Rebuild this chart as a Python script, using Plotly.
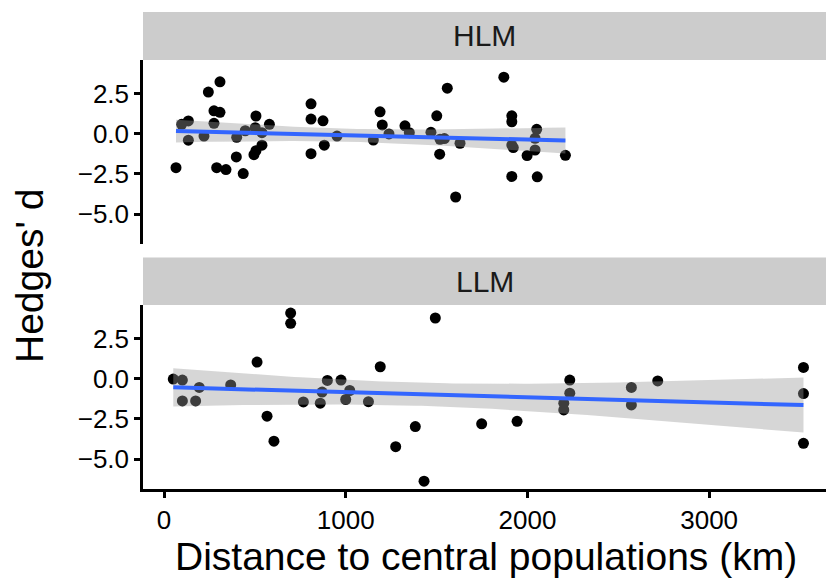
import numpy as np
import plotly.graph_objects as go

# ---- data ----
hlm_x = [66, 97, 134, 134, 220, 244, 275, 275, 308, 308, 290, 341, 400, 398, 436, 447,
         506, 502, 539, 539, 506, 495, 580, 809, 809, 875, 952, 809, 882, 1152, 1189,
         1201, 1238, 1326, 1350, 1469, 1501, 1519, 1543, 1517, 1559, 1629, 1605, 1870,
         1914, 1914, 1914, 1922, 1914, 1998, 2051, 2042, 2042, 2054, 2209]
hlm_y = [-2.11, 0.59, 0.80, -0.40, -0.14, 2.60, 0.65, 1.43, 3.24, 1.34, -2.11, -2.23,
         -0.22, -1.44, -2.48, 0.19, 1.11, 0.38, 0.07, -0.71, -1.05, -1.30, 0.59, 1.87,
         0.92, 0.81, -0.14, -1.24, -0.71, -0.39, 1.37, 0.55, -0.01, 0.50, 0.07, 0.09,
         1.12, -0.34, -0.30, -1.27, 2.84, -0.59, -3.94, 3.53, 1.12, 0.75, -0.70, -0.86,
         -2.66, -1.36, 0.28, -0.28, -1.01, -2.68, -1.34]

llm_x = [51, 101, 101, 174, 194, 367, 512, 567, 605, 697, 697, 767, 860, 870, 899, 974,
         1022, 1000, 1125, 1190, 1493, 1383, 1275, 1431, 1748, 1943, 2233, 2233, 2200,
         2200, 2572, 2572, 2717, 3519, 3519, 3519]
llm_y = [-0.02, -0.08, -1.38, -1.38, -0.54, -0.38, 1.04, -2.33, -3.89, 4.10, 3.46, -1.44,
         -1.52, -0.83, -0.10, -0.08, -0.73, -1.29, -1.43, 0.75, 3.79, -2.98, -4.23, -6.38,
         -2.81, -2.65, -0.08, -0.90, -1.52, -1.94, -0.54, -1.63, -0.13, 0.71, -0.92, -4.02]

panel_labels = ["HLM", "LLM"]
x_ticks = [0, 1000, 2000, 3000]
y_ticks = [-5.0, -2.5, 0.0, 2.5]
x_title = "Distance to central populations (km)"
y_title = "Hedges' d"

FONT = "Liberation Sans, Arial, sans-serif"


def t_quantile(df, z=1.959964):
    # Cornish-Fisher style expansion of the Student t 97.5% quantile
    return (z + (z**3 + z) / (4 * df) + (5 * z**5 + 16 * z**3 + 3 * z) / (96 * df**2)
            + (3 * z**7 + 19 * z**5 + 17 * z**3 - 15 * z) / (384 * df**3))


def lm_fit(x, y, n_out=100):
    x = np.asarray(x, float)
    y = np.asarray(y, float)
    n = len(x)
    b, a = np.polyfit(x, y, 1)
    res = y - (a + b * x)
    s = np.sqrt(np.sum(res**2) / (n - 2))
    xm = x.mean()
    sxx = np.sum((x - xm) ** 2)
    xs = np.linspace(x.min(), x.max(), n_out)
    yh = a + b * xs
    se = s * np.sqrt(1.0 / n + (xs - xm) ** 2 / sxx)
    t = t_quantile(n - 2)
    return xs, yh, yh - t * se, yh + t * se


fig = go.Figure()


def add_panel(x, y, xa, ya):
    fig.add_trace(go.Scatter(x=x, y=y, mode="markers", xaxis=xa, yaxis=ya,
                             marker=dict(color="black", size=11, line=dict(width=0)),
                             showlegend=False, hoverinfo="skip"))
    xs, yh, lo, hi = lm_fit(x, y)
    fig.add_trace(go.Scatter(x=np.concatenate([xs, xs[::-1]]),
                             y=np.concatenate([hi, lo[::-1]]),
                             mode="lines", fill="toself",
                             fillcolor="rgba(153,153,153,0.4)",
                             line=dict(width=0), xaxis=xa, yaxis=ya,
                             showlegend=False, hoverinfo="skip"))
    fig.add_trace(go.Scatter(x=xs, y=yh, mode="lines", xaxis=xa, yaxis=ya,
                             line=dict(color="#3366FF", width=4),
                             showlegend=False, hoverinfo="skip"))


add_panel(hlm_x, hlm_y, "x2", "y2")
add_panel(llm_x, llm_y, "x", "y")

W, H = 826, 581
ML, MR, MT, MB = 143, 0, 12, 92
plot_h = H - MT - MB
plot_w = W - ML - MR


def fy(py):
    return (H - MB - py) / plot_h


def fx(px):
    return (px - ML) / plot_w


xr = [-115.6, 3643]
yr = [-6.87, 4.6]

axis_common = dict(showgrid=False, zeroline=False, linecolor="black", linewidth=2.5,
                   tickcolor="black", tickwidth=2.5, ticklen=6,
                   tickfont=dict(family=FONT, size=26, color="black"))

fig.update_layout(
    width=W, height=H,
    margin=dict(l=ML, r=MR, t=MT, b=MB, autoexpand=False),
    paper_bgcolor="white", plot_bgcolor="white",
    showlegend=False,
    xaxis=dict(domain=[0, 1], anchor="y", range=xr, showline=True, ticks="outside",
               tickvals=x_ticks, **axis_common),
    yaxis=dict(domain=[0, fy(305)], anchor="x", range=yr, showline=True, ticks="outside",
               tickvals=y_ticks, tickformat=".1f", **axis_common),
    xaxis2=dict(domain=[0, 1], anchor="y2", range=xr, showline=False, ticks="",
                showticklabels=False, showgrid=False, zeroline=False),
    yaxis2=dict(domain=[fy(244), fy(60)], anchor="x2", range=yr, showline=True,
                ticks="outside", tickvals=y_ticks, tickformat=".1f", **axis_common),
)

# facet strips
for (top, bot), lab in zip([(12, 60), (257.5, 305)], panel_labels):
    fig.add_shape(type="rect", xref="paper", yref="paper", x0=0, x1=1,
                  y0=fy(bot), y1=fy(top), fillcolor="#CCCCCC", line=dict(width=0),
                  layer="below")
    fig.add_annotation(text=lab, xref="paper", yref="paper", x=0.5,
                       y=fy((top + bot) / 2), xanchor="center", yanchor="middle",
                       showarrow=False, font=dict(family=FONT, size=30, color="#1A1A1A"))

# axis titles
fig.add_annotation(text=y_title, xref="paper", yref="paper", x=fx(29), y=fy(276),
                   textangle=-90, xanchor="center", yanchor="middle", showarrow=False,
                   font=dict(family=FONT, size=39, color="black"))
fig.add_annotation(text=x_title, xref="paper", yref="paper", x=fx(486), y=fy(556),
                   xanchor="center", yanchor="middle", showarrow=False,
                   font=dict(family=FONT, size=39, color="black"))

fig.write_html("out.html")
